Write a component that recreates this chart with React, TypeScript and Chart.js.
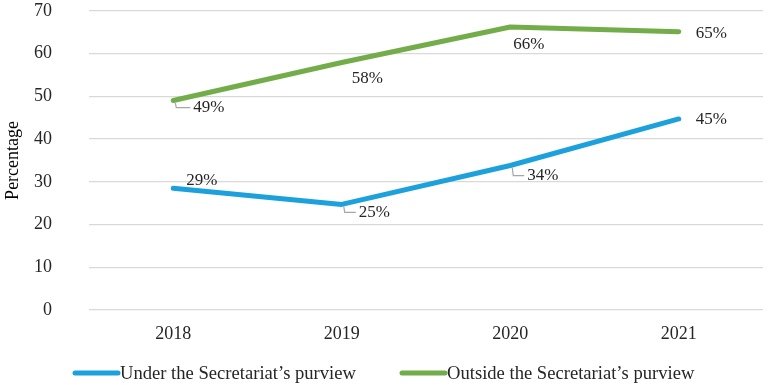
import React, { useEffect, useRef } from "react";
import { Chart, registerables } from "chart.js";

Chart.register(...registerables);

const categories = ["2018", "2019", "2020", "2021"];
const underValues = [28.5, 24.7, 33.8, 44.7];
const outsideValues = [49.0, 57.9, 66.2, 65.1];
const underLabels = ["29%", "25%", "34%", "45%"];
const outsideLabels = ["49%", "58%", "66%", "65%"];
const seriesNames = ["Under the Secretariat\u2019s purview", "Outside the Secretariat\u2019s purview"];
const yTicks = [0, 10, 20, 30, 40, 50, 60, 70];

const BLUE = "#1da1dc";
const GREEN = "#72ad4a";
const FONT = "'Liberation Serif', 'Times New Roman', serif";
const FS = 17;
const AXIS_FS = 18;
const LEGEND_FS = 18.6;

// label placement: [dx to text left, dy to text middle, leader?]
const underOffsets: [number, number, boolean][] = [
  [13, -8, false],
  [17, 8, true],
  [17, 10, true],
  [17, 1, false],
];
const outsideOffsets: [number, number, boolean][] = [
  [20, 7, true],
  [10, 16, false],
  [3, 17, false],
  [17, 2, false],
];

const labelPlugin = {
  id: "customLabels",
  afterDatasetsDraw(chart: any) {
    const ctx = chart.ctx;
    const sets = [
      { idx: 0, labels: underLabels, offs: underOffsets },
      { idx: 1, labels: outsideLabels, offs: outsideOffsets },
    ];
    ctx.save();
    ctx.font = `${FS}px ${FONT}`;
    ctx.textBaseline = "middle";
    ctx.textAlign = "left";
    for (const s of sets) {
      const meta = chart.getDatasetMeta(s.idx);
      meta.data.forEach((pt: any, i: number) => {
        const [dx, dy, leader] = s.offs[i];
        if (leader) {
          ctx.strokeStyle = "#a6a6a6";
          ctx.lineWidth = 1.2;
          ctx.beginPath();
          ctx.moveTo(pt.x + 2, pt.y + 2);
          ctx.lineTo(pt.x + 3, dy + pt.y);
          ctx.lineTo(pt.x + dx - 3, dy + pt.y);
          ctx.stroke();
        }
        ctx.fillStyle = "#262626";
        ctx.fillText(s.labels[i], pt.x + dx, pt.y + dy);
      });
    }
    ctx.restore();
  },
};

const legendPlugin = {
  id: "customLegend",
  afterDraw(chart: any) {
    const ctx = chart.ctx;
    const y = 373;
    const items = [
      { x: 75, color: BLUE, text: seriesNames[0] },
      { x: 402, color: GREEN, text: seriesNames[1] },
    ];
    ctx.save();
    ctx.font = `${LEGEND_FS}px ${FONT}`;
    ctx.textBaseline = "middle";
    ctx.textAlign = "left";
    for (const it of items) {
      ctx.strokeStyle = it.color;
      ctx.lineWidth = 5;
      ctx.lineCap = "round";
      ctx.beginPath();
      ctx.moveTo(it.x, y);
      ctx.lineTo(it.x + 43, y);
      ctx.stroke();
      ctx.fillStyle = "#262626";
      ctx.fillText(it.text, it.x + 45, y + 1);
    }
    ctx.restore();
  },
};

export default function App() {
  const ref = useRef<HTMLCanvasElement | null>(null);
  useEffect(() => {
    if (!ref.current) return;
    const chart = new Chart(ref.current, {
      type: "line",
      data: {
        labels: categories,
        datasets: [
          {
            label: seriesNames[0],
            data: underValues,
            borderColor: BLUE,
            backgroundColor: BLUE,
            borderWidth: 5,
            pointRadius: 0,
            tension: 0,
            borderCapStyle: "round",
            borderJoinStyle: "round",
          },
          {
            label: seriesNames[1],
            data: outsideValues,
            borderColor: GREEN,
            backgroundColor: GREEN,
            borderWidth: 5,
            pointRadius: 0,
            tension: 0,
            borderCapStyle: "round",
            borderJoinStyle: "round",
          },
        ],
      },
      options: {
        animation: false,
        responsive: false,
        maintainAspectRatio: false,
        layout: { padding: { top: 0, right: 7, bottom: 40, left: 0 } },
        plugins: {
          legend: { display: false },
          tooltip: { enabled: false },
        },
        scales: {
          x: {
            offset: true,
            grid: { display: false, drawTicks: false },
            border: { display: false },
            ticks: {
              padding: 13,
              color: "#262626",
              font: { family: FONT, size: AXIS_FS },
            },
            afterFit: (s: any) => {
              s.height = 35;
            },
          },
          y: {
            min: 0,
            max: 70,
            afterBuildTicks: (s: any) => {
              s.ticks = yTicks.map((v) => ({ value: v }));
            },
            grid: {
              color: "#d9d9d9",
              lineWidth: 1.3,
              drawTicks: true,
              tickLength: 37,
              tickColor: "rgba(0,0,0,0)",
            },
            border: { display: false },
            ticks: {
              padding: 0,
              color: "#262626",
              font: { family: FONT, size: AXIS_FS },
            },
            title: {
              display: true,
              text: "Percentage",
              color: "#000000",
              font: { family: FONT, size: AXIS_FS },
              padding: { top: 2, bottom: 0 },
            },
            afterFit: (s: any) => {
              s.width = 89;
            },
          },
        },
      },
      plugins: [labelPlugin, legendPlugin],
    });
    return () => chart.destroy();
  }, []);
  return (
    <div style={{ position: "fixed", left: 0, top: 0, width: 770, height: 385, background: "#fff" }}>
      <canvas ref={ref} width={770} height={385} style={{ width: 770, height: 385 }} />
    </div>
  );
}
